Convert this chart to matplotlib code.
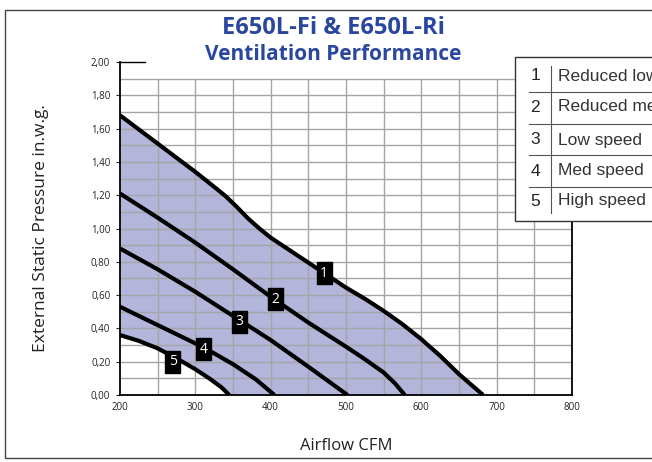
import matplotlib
matplotlib.use('Agg')
import matplotlib.pyplot as plt
from matplotlib.patches import Rectangle
from matplotlib.lines import Line2D
import numpy as np

# airflow (CFM) / static pressure (in.w.g.)
cfm_1 = [200, 250, 300, 325, 340, 355, 370, 385, 400, 450, 500, 525, 550, 575, 600, 625, 650, 682]
esp_1 = [1.68, 1.51, 1.34, 1.25, 1.195, 1.13, 1.06, 1.0, 0.945, 0.795, 0.645, 0.578, 0.505, 0.425, 0.335, 0.235, 0.125, 0.0]
cfm_2 = [200, 250, 300, 350, 400, 450, 500, 525, 550, 565, 578]
esp_2 = [1.21, 1.065, 0.915, 0.755, 0.59, 0.435, 0.29, 0.215, 0.135, 0.07, 0.0]
cfm_3 = [200, 250, 300, 350, 400, 450, 502]
esp_3 = [0.88, 0.755, 0.62, 0.475, 0.33, 0.17, 0.0]
cfm_4 = [200, 250, 300, 325, 350, 380, 405]
esp_4 = [0.53, 0.42, 0.31, 0.25, 0.185, 0.095, 0.0]
cfm_5 = [200, 225, 250, 275, 300, 320, 335, 345]
esp_5 = [0.36, 0.325, 0.28, 0.22, 0.155, 0.095, 0.045, 0.0]

curves = [(cfm_1, esp_1), (cfm_2, esp_2), (cfm_3, esp_3), (cfm_4, esp_4), (cfm_5, esp_5)]
label_pos = [(471, 0.73), (406, 0.575), (359, 0.44), (311, 0.275), (270, 0.20)]

speed_names = ['Reduced low speed', 'Reduced med speed', 'Low speed', 'Med speed', 'High speed']
x_ticks = [200, 300, 400, 500, 600, 700, 800]
y_ticks = [0.0, 0.2, 0.4, 0.6, 0.8, 1.0, 1.2, 1.4, 1.6, 1.8, 2.0]

fig = plt.figure(figsize=(6.52, 4.62), dpi=100)
plt.rcParams['font.family'] = ['Open Sans', 'DejaVu Sans']

# outer frame
fig.patches.append(Rectangle((5 / 652, 4 / 462), 1.2, 448 / 462, transform=fig.transFigure,
                             fill=False, edgecolor='#444444', lw=1.0, zorder=0))

ax = fig.add_axes([120 / 652, 67 / 462, 452 / 652, 333 / 462])
ax.set_xlim(200, 800)
ax.set_ylim(0, 2.0)

# shaded operating range
xx = np.linspace(200, 682, 500)
top = np.interp(xx, cfm_1, esp_1)
bottom = np.interp(xx, cfm_5, esp_5, right=0.0)
ax.fill_between(xx, bottom, top, color='#b3b5db', lw=0, zorder=1)

# grid
ax.vlines(np.arange(250, 800, 50), 0, 1.9, color='#a5a5a5', lw=1.0, zorder=2)
ax.hlines(np.arange(0.1, 1.95, 0.1), 200, 800, color='#a5a5a5', lw=1.0, zorder=2)
ax.axhline(2.0, xmin=0, xmax=0.055, color='black', lw=1.0, clip_on=False)

for (xs, ys), (lx, ly), n in zip(curves, label_pos, range(1, 6)):
    ax.plot(xs, ys, color='black', lw=3.0, solid_capstyle='butt', solid_joinstyle='round', zorder=4)
    ax.text(lx, ly, str(n), color='white', fontsize=10, ha='center', va='center', zorder=6,
            bbox=dict(boxstyle='square,pad=0.25', fc='black', ec='black'))

ax.spines['top'].set_visible(False)
for s in ['left', 'bottom', 'right']:
    ax.spines[s].set_color('black')
    ax.spines[s].set_linewidth(1.3)
    ax.spines[s].set_zorder(5)

ax.set_xticks(x_ticks)
ax.set_xticklabels([str(v) for v in x_ticks])
ax.set_yticks(y_ticks)
ax.set_yticklabels([('%.2f' % v).replace('.', ',') for v in y_ticks])
ax.tick_params(axis='x', length=0, labelsize=7, pad=5, colors='#222222')
ax.tick_params(axis='y', length=3, labelsize=7, pad=4, colors='#222222')

ax.set_xlabel('Airflow CFM', fontsize=12, color='#222222', labelpad=18)
ax.set_ylabel('External Static Pressure in.w.g.', fontsize=12.5, color='#222222', labelpad=30)

fig.text(333 / 652, 1 - 28 / 462, 'E650L-Fi & E650L-Ri', fontsize=17, fontweight='bold',
         color='#2a47a0', ha='center', va='center')
fig.text(333 / 652, 1 - 54 / 462, 'Ventilation Performance', fontsize=15, fontweight='bold',
         color='#2a47a0', ha='center', va='center')

# speed legend table
fig.patches.append(Rectangle((515 / 652, 1 - 221 / 462), 0.5, 164 / 462, transform=fig.transFigure,
                             fc='white', ec='#333333', lw=1.0, zorder=10))
row_y = [76, 107, 140, 171, 201]
for i, name in enumerate(speed_names):
    y = 1 - row_y[i] / 462
    fig.text(535 / 652, y, str(i + 1), fontsize=12.5, color='#222222', ha='center', va='center',
             family=['Liberation Sans'], zorder=11)
    fig.text(558 / 652, y, name, fontsize=12.5, color='#333333', ha='left', va='center',
             family=['Liberation Sans'], zorder=11)
for yl in [92, 124, 155, 187]:
    fig.lines.append(Line2D([529 / 652, 1.0], [1 - yl / 462] * 2, transform=fig.transFigure,
                            color='#555555', lw=0.8, zorder=11))
fig.lines.append(Line2D([551 / 652] * 2, [1 - 66 / 462, 1 - 213 / 462], transform=fig.transFigure,
                        color='#555555', lw=0.8, zorder=11))

fig.savefig('out.png', dpi=100)
